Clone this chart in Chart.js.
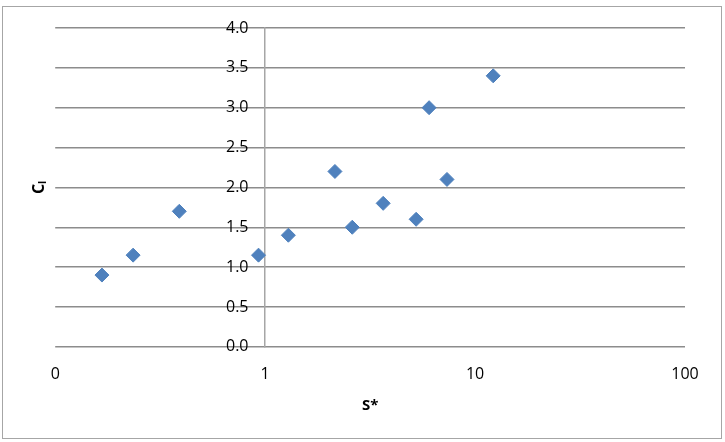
<!DOCTYPE html>
<html>
<head>
<meta charset="utf-8">
<script src="https://cdn.jsdelivr.net/npm/chart.js@4/dist/chart.umd.min.js"></script>
<style>
  body { margin: 0; background: #fff; }
  #wrap { position: relative; width: 725px; height: 442px; }
  #frame { position: absolute; left: 2px; top: 6px; width: 718px; height: 431px; border: 1.5px solid #a6a6a6; pointer-events: none; }
  canvas { position: absolute; left: 0; top: 0; }
</style>
</head>
<body>
<div id="wrap">
  <canvas id="chart" width="725" height="442"></canvas>
  <div id="frame"></div>
</div>
<script>
// S* (log scale) and C_l values
const sValues = [0.167, 0.235, 0.39, 0.93, 1.29, 2.15, 2.6, 3.65, 5.24, 6.04, 7.35, 12.2];
const clValues = [0.9, 1.15, 1.7, 1.15, 1.4, 2.2, 1.5, 1.8, 1.6, 3.0, 2.1, 3.4];
const xTicks = [0.1, 1, 10, 100];
const xTickLabels = ['0', '1', '10', '100'];

const points = sValues.map((s, i) => ({ x: s, y: clValues[i] }));
const font = 'Open Sans, Liberation Sans, sans-serif';

new Chart(document.getElementById('chart'), {
    type: 'scatter',
    data: {
        datasets: [{
            data: points,
            pointStyle: 'rectRot',
            pointRadius: 7,
            pointHoverRadius: 7,
            backgroundColor: '#4F81BD',
            borderColor: '#4F81BD',
            borderWidth: 1
        }]
    },
    options: {
        responsive: false,
        animation: false,
        events: [],
        layout: { padding: { left: 24, right: 40, top: 28, bottom: 27 } },
        plugins: {
            legend: { display: false },
            tooltip: { enabled: false },
            title: {
                display: true,
                text: 'Cₗ',
                position: 'left',
                fullSize: false,
                color: '#000',
                font: { family: font, size: 16, weight: 'bold' },
                padding: { top: 6, bottom: 6 }
            }
        },
        scales: {
            x: {
                type: 'logarithmic',
                min: 0.1,
                max: 100,
                afterBuildTicks: axis => { axis.ticks = xTicks.map(v => ({ value: v })); },
                ticks: {
                    color: '#000',
                    font: { family: font, size: 16 },
                    padding: 10,
                    maxRotation: 0,
                    callback: (v) => xTickLabels[xTicks.indexOf(v)]
                },
                grid: { display: false },
                border: { display: false },
                title: {
                    display: true,
                    text: 'S*',
                    color: '#000',
                    font: { family: font, size: 15, weight: 'bold' },
                    padding: { top: 3, bottom: 0 }
                }
            },
            y: {
                position: { x: 1 },
                min: 0,
                max: 4,
                ticks: {
                    stepSize: 0.5,
                    color: '#000',
                    font: { family: font, size: 16 },
                    // labels sit right on the crossing axis, so pad them with spaces
                    callback: v => v.toFixed(1) + '    '
                },
                grid: { color: '#8c8c8c', lineWidth: 1.5, drawTicks: false },
                border: { color: '#a6a6a6', width: 1.5 }
            }
        }
    }
});
</script>
</body>
</html>
